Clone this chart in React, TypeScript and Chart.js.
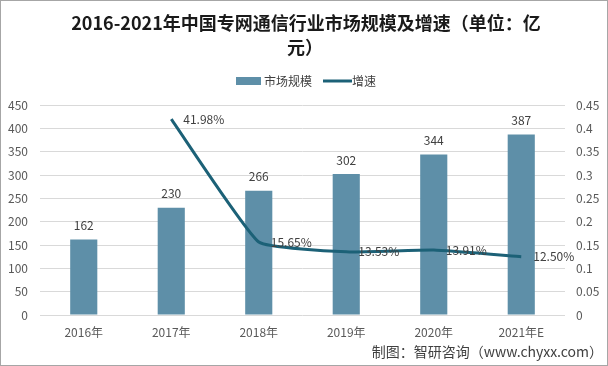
import React, { useEffect, useRef } from "react";
import { Chart, registerables } from "chart.js";

Chart.register(...registerables);

const categories = ["2016年", "2017年", "2018年", "2019年", "2020年", "2021年E"];
const marketSize = [162, 230, 266, 302, 344, 387];
const growthRate = [null, 0.4198, 0.1565, 0.1353, 0.1391, 0.125];
const titleLines = ["2016-2021年中国专网通信行业市场规模及增速（单位：亿", "元）"];
const legendLabels = ["市场规模", "增速"];
const footerText = "制图：智研咨询（www.chyxx.com）";

const FONT = '"Noto Sans CJK SC", "Noto Sans", sans-serif';
const BAR_COLOR = "#5E8FA8";
const LINE_COLOR = "#1C6177";
const TICK_COLOR = "#595959";
const LABEL_COLOR = "#404040";

const decorPlugin = {
  id: "decor",
  afterDraw(chart: any) {
    const ctx = chart.ctx;
    ctx.save();
    // border
    ctx.strokeStyle = "#A6A6A6";
    ctx.lineWidth = 1;
    ctx.strokeRect(0.5, 0.5, 607, 365);
    // title
    ctx.fillStyle = "#1a1a1a";
    ctx.font = `bold 18px ${FONT}`;
    ctx.textAlign = "center";
    ctx.textBaseline = "middle";
    ctx.fillText(titleLines[0], 306, 23);
    ctx.fillText(titleLines[1], 305, 47);
    // legend
    ctx.font = `12px ${FONT}`;
    ctx.textAlign = "left";
    ctx.fillStyle = BAR_COLOR;
    ctx.fillRect(236, 77, 25, 8);
    ctx.fillStyle = LABEL_COLOR;
    ctx.fillText(legendLabels[0], 264, 81);
    ctx.strokeStyle = LINE_COLOR;
    ctx.lineWidth = 3;
    ctx.beginPath();
    ctx.moveTo(323, 81);
    ctx.lineTo(352, 81);
    ctx.stroke();
    ctx.fillText(legendLabels[1], 352, 81);
    // footer
    ctx.font = `14px ${FONT}`;
    ctx.textAlign = "right";
    ctx.fillStyle = LABEL_COLOR;
    ctx.fillText(footerText, 603, 352);
    ctx.restore();
  },
  afterDatasetsDraw(chart: any) {
    const ctx = chart.ctx;
    ctx.save();
    ctx.font = `12px ${FONT}`;
    ctx.fillStyle = LABEL_COLOR;
    const barMeta = chart.getDatasetMeta(1);
    barMeta.data.forEach((el: any, i: number) => {
      ctx.textAlign = "center";
      ctx.textBaseline = "middle";
      ctx.fillText(String(marketSize[i]), el.x, el.y - 14);
    });
    const lineMeta = chart.getDatasetMeta(0);
    lineMeta.data.forEach((el: any, i: number) => {
      const v = growthRate[i];
      if (v == null) return;
      ctx.textAlign = "left";
      ctx.textBaseline = "middle";
      ctx.fillText((v * 100).toFixed(2) + "%", el.x + 12, el.y);
    });
    ctx.restore();
  },
};

export default function App() {
  const ref = useRef<HTMLCanvasElement>(null);
  useEffect(() => {
    const chart = new Chart(ref.current!, {
      data: {
        labels: categories,
        datasets: [
          {
            type: "line",
            label: legendLabels[1],
            data: growthRate as any,
            yAxisID: "y1",
            borderColor: LINE_COLOR,
            backgroundColor: LINE_COLOR,
            borderWidth: 3,
            pointRadius: 0,
            tension: 0.12,
            order: 0,
          },
          {
            type: "bar",
            label: legendLabels[0],
            data: marketSize,
            yAxisID: "y",
            backgroundColor: BAR_COLOR,
            barPercentage: 0.31,
            categoryPercentage: 1,
            order: 1,
          },
        ],
      } as any,
      options: {
        responsive: false,
        animation: false,
        layout: { padding: { top: 105, bottom: 0, left: 0, right: 0 } },
        plugins: {
          legend: { display: false },
          title: { display: false },
          tooltip: { enabled: false },
        },
        scales: {
          x: {
            grid: { display: false },
            border: { display: false },
            ticks: { color: TICK_COLOR, font: { family: FONT, size: 12 }, padding: 2, maxRotation: 0 },
            afterFit(scale: any) {
              scale.height = 51;
            },
          },
          y: {
            position: "left",
            min: 0,
            max: 450,
            ticks: { stepSize: 50, color: TICK_COLOR, font: { family: FONT, size: 12 }, padding: 12 },
            grid: { color: "#D9D9D9", drawTicks: false },
            border: { display: false },
            afterFit(scale: any) {
              scale.width = 40;
            },
          },
          y1: {
            position: "right",
            min: 0,
            max: 0.45,
            ticks: {
              stepSize: 0.05,
              color: TICK_COLOR,
              font: { family: FONT, size: 12 },
              padding: 11,
              callback: (v: any) => String(+Number(v).toFixed(2)),
            },
            grid: { display: false, drawTicks: false },
            border: { display: false },
            afterFit(scale: any) {
              scale.width = 43;
            },
          },
        },
      } as any,
      plugins: [decorPlugin],
    });
    return () => chart.destroy();
  }, []);
  return (
    <div style={{ position: "fixed", left: 0, top: 0, width: 608, height: 366, background: "#fff" }}>
      <canvas ref={ref} width={608} height={366} />
    </div>
  );
}
